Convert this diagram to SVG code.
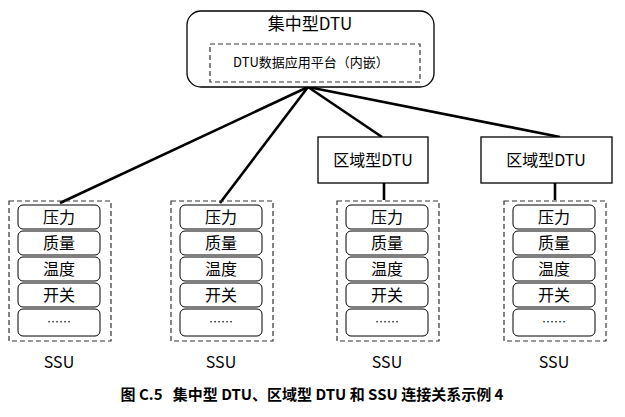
<svg xmlns="http://www.w3.org/2000/svg" width="625" height="417" viewBox="0 0 625 417">
<style>
text{font-family:"Noto Sans CJK SC","Liberation Sans",sans-serif;text-anchor:middle;fill:#000}
.b{fill:#fff;stroke:#000;stroke-width:1.3}
.d{fill:none;stroke:#333;stroke-width:1.2;stroke-dasharray:5,3}
.i{fill:#fff;stroke:#000;stroke-width:1}
.c{stroke:#000;stroke-width:2.6;fill:none}
.t{font-size:16px}
</style>
<defs>
<g id="ssu">
<rect class="d" x="0" y="0" width="102" height="140"/>
<rect class="i" x="9" y="4" width="82" height="24" rx="5"/><text class="t" x="50" y="22">压力</text>
<rect class="i" x="9" y="30" width="82" height="24" rx="5"/><text class="t" x="50" y="48">质量</text>
<rect class="i" x="9" y="56" width="82" height="24" rx="5"/><text class="t" x="50" y="74">温度</text>
<rect class="i" x="9" y="82" width="82" height="24" rx="5"/><text class="t" x="50" y="100">开关</text>
<rect class="i" x="9" y="108" width="82" height="27" rx="5"/><text x="50" y="126" font-size="12">……</text>
<text class="t" x="50" y="167" font-family="Liberation Sans,sans-serif">SSU</text>
</g>
</defs>
<g id="connectors">
<line class="c" x1="308" y1="87" x2="60" y2="203"/>
<line class="c" x1="308" y1="87" x2="220" y2="203"/>
<line class="c" x1="308" y1="87" x2="382" y2="137"/>
<line class="c" x1="308" y1="87" x2="560" y2="137"/>
<line class="c" x1="384" y1="183" x2="384" y2="200"/>
<line class="c" x1="555" y1="183" x2="555" y2="200"/>
</g>
<g id="central">
<rect class="b" x="187" y="11" width="247" height="76" rx="14"/>
<text x="310" y="30" font-size="17">集中型DTU</text>
<rect class="d" x="210" y="44" width="210" height="38"/>
<text x="311" y="67" font-size="13">DTU数据应用平台（内嵌）</text>
</g>
<g id="r1"><rect class="b" x="318" y="137" width="110" height="46"/><text class="t" x="373" y="166">区域型DTU</text></g>
<g id="r2"><rect class="b" x="481" y="137" width="131" height="46"/><text class="t" x="546" y="166">区域型DTU</text></g>
<g id="ssu1"><use href="#ssu" x="9" y="201"/></g>
<g id="ssu2"><use href="#ssu" x="171" y="201"/></g>
<g id="ssu3"><use href="#ssu" x="337" y="201"/></g>
<g id="ssu4"><use href="#ssu" x="504" y="201"/></g>
<text x="312" y="400" font-size="15" font-weight="bold" font-family="Liberation Serif,'Noto Sans CJK SC',serif" xml:space="preserve">图 C.5   集中型 DTU、区域型 DTU 和 SSU 连接关系示例 4</text>
</svg>
